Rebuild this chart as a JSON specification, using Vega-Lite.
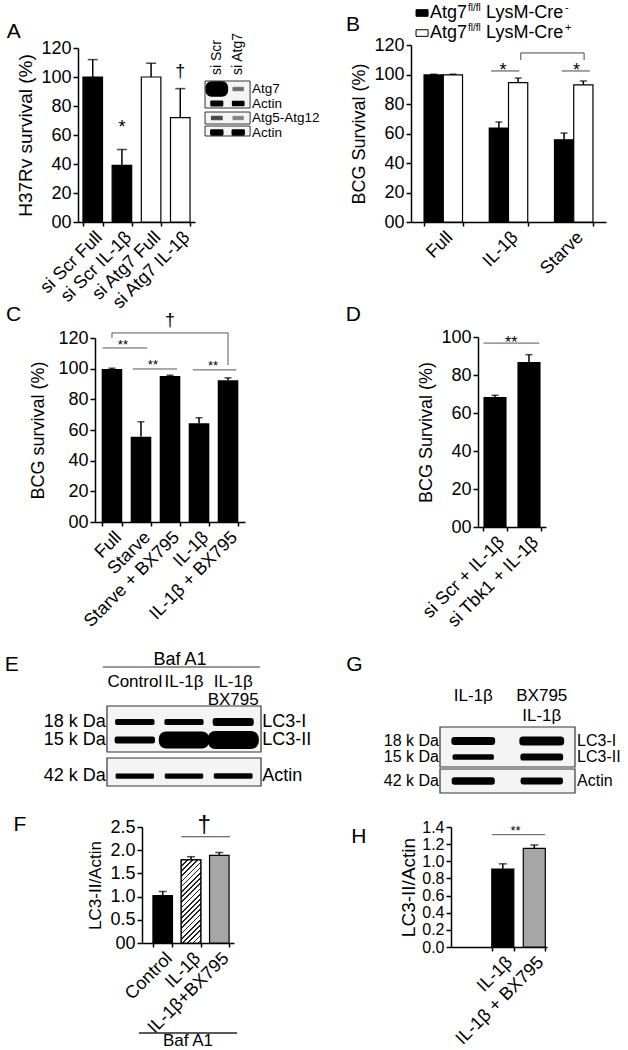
{
"$schema": "https://vega.github.io/schema/vega-lite/v6.json",
"width": 628, "height": 1050,
"autosize": {"type": "none"},
"padding": 0,
"background": "white",
"config": {
  "font": "Liberation Sans",
  "view": {"stroke": null},
  "axis": {"domainColor": "black", "domainWidth": 1.5, "tickColor": "black", "tickWidth": 1.5, "tickSize": 5, "labelColor": "black", "labelFontSize": 18, "titleColor": "black", "titleFontSize": 18, "titleFontWeight": "normal", "grid": false, "labelPadding": 2, "titlePadding": 4, "labelOverlap": false, "labelFlush": false, "labelBound": false},
  "text": {"color": "black"}
},
"datasets": {
  "A": [
    {"cond": "si Scr Full", "grp": "si Scr", "v": 100, "hi": 112},
    {"cond": "si Scr IL-1β", "grp": "si Scr", "v": 39, "hi": 50},
    {"cond": "si Atg7 Full", "grp": "si Atg7", "v": 100, "hi": 109.5},
    {"cond": "si Atg7 IL-1β", "grp": "si Atg7", "v": 72, "hi": 92}
  ],
  "blotA": [
    {"lane": "si Scr", "row": "Atg7", "signal": 0.7},
    {"lane": "si Atg7", "row": "Atg7", "signal": 0.04},
    {"lane": "si Scr", "row": "Actin a", "signal": 0.14},
    {"lane": "si Atg7", "row": "Actin a", "signal": 0.12},
    {"lane": "si Scr", "row": "Atg5-Atg12", "signal": 0.06},
    {"lane": "si Atg7", "row": "Atg5-Atg12", "signal": 0.03},
    {"lane": "si Scr", "row": "Actin b", "signal": 0.16},
    {"lane": "si Atg7", "row": "Actin b", "signal": 0.16}
  ],
  "blotArows": [{"row": "Atg7", "label": "Atg7"}, {"row": "Actin a", "label": "Actin"}, {"row": "Atg5-Atg12", "label": "Atg5-Atg12"}, {"row": "Actin b", "label": "Actin"}],
  "blotAlanes": [{"lane": "si Scr"}, {"lane": "si Atg7"}],
  "B": [
    {"cond": "Full", "geno": "Cre-", "v": 99.7, "hi": 100.2},
    {"cond": "Full", "geno": "Cre+", "v": 99.7, "hi": 100.2},
    {"cond": "IL-1β", "geno": "Cre-", "v": 63.7, "hi": 67.8},
    {"cond": "IL-1β", "geno": "Cre+", "v": 94.5, "hi": 97.6},
    {"cond": "Starve", "geno": "Cre-", "v": 55.7, "hi": 60.3},
    {"cond": "Starve", "geno": "Cre+", "v": 93, "hi": 95.6}
  ],
  "C": [
    {"cond": "Full", "v": 99.8, "hi": 100.3},
    {"cond": "Starve", "v": 55.6, "hi": 65.4},
    {"cond": "Starve + BX795", "v": 95.2, "hi": 95.7},
    {"cond": "IL-1β", "v": 64.4, "hi": 68},
    {"cond": "IL-1β + BX795", "v": 92.4, "hi": 94}
  ],
  "D": [
    {"cond": "si Scr + IL-1β", "v": 68.4, "hi": 69.3},
    {"cond": "si Tbk1 + IL-1β", "v": 86.8, "hi": 90.7}
  ],
  "blotE": [
    {"lane": "Control", "row": "LC3-I", "signal": 0.2},
    {"lane": "IL-1β", "row": "LC3-I", "signal": 0.19},
    {"lane": "IL-1β\nBX795", "row": "LC3-I", "signal": 0.3},
    {"lane": "Control", "row": "LC3-II", "signal": 0.26},
    {"lane": "IL-1β", "row": "LC3-II", "signal": 0.85},
    {"lane": "IL-1β\nBX795", "row": "LC3-II", "signal": 0.9},
    {"lane": "Control", "row": "Actin", "signal": 0.15},
    {"lane": "IL-1β", "row": "Actin", "signal": 0.15},
    {"lane": "IL-1β\nBX795", "row": "Actin", "signal": 0.17}
  ],
  "blotErows": [{"row": "LC3-I", "kda": "18 k Da"}, {"row": "LC3-II", "kda": "15 k Da"}, {"row": "Actin", "kda": "42 k Da"}],
  "blotElanes": [{"lane": "Control"}, {"lane": "IL-1β"}, {"lane": "IL-1β\nBX795"}],
  "F": [
    {"cond": "Control", "v": 1.02, "hi": 1.11},
    {"cond": "IL-1β", "v": 1.79, "hi": 1.86},
    {"cond": "IL-1β+BX795", "v": 1.89, "hi": 1.95}
  ],
  "blotG": [
    {"lane": "IL-1β", "row": "LC3-I", "signal": 0.36},
    {"lane": "BX795\nIL-1β", "row": "LC3-I", "signal": 0.42},
    {"lane": "IL-1β", "row": "LC3-II", "signal": 0.22},
    {"lane": "BX795\nIL-1β", "row": "LC3-II", "signal": 0.3},
    {"lane": "IL-1β", "row": "Actin", "signal": 0.32},
    {"lane": "BX795\nIL-1β", "row": "Actin", "signal": 0.28}
  ],
  "blotGrows": [{"row": "LC3-I", "kda": "18 k Da"}, {"row": "LC3-II", "kda": "15 k Da"}, {"row": "Actin", "kda": "42 k Da"}],
  "blotGlanes": [{"lane": "IL-1β"}, {"lane": "BX795\nIL-1β"}],
  "H": [
    {"cond": "IL-1β", "v": 0.91, "hi": 0.97},
    {"cond": "IL-1β + BX795", "v": 1.15, "hi": 1.19}
  ]
},
"resolve": {"scale": {"x": "independent", "y": "independent", "fill": "independent", "color": "independent", "opacity": "independent", "strokeWidth": "independent"}, "axis": {"x": "independent", "y": "independent"}},
"layer": [
  {
    "data": {"name": "A"},
    "layer": [
      {"mark": {"type": "bar", "stroke": "black", "strokeWidth": 1.2},
       "encoding": {
         "x": {"field": "cond", "type": "nominal", "scale": {"domain": ["si Scr Full", "si Scr IL-1β", "si Atg7 Full", "si Atg7 IL-1β"], "range": [78, 195], "paddingInner": 0.33, "paddingOuter": 0.17}, "axis": {"orient": "bottom", "offset": -828, "title": null, "labelAngle": -45, "tickBand": "extent", "tickSize": 4}},
         "y": {"field": "v", "type": "quantitative", "scale": {"domain": [0, 120], "range": [222, 48], "nice": false}, "axis": {"orient": "left", "offset": -78, "values": [0, 20, 40, 60, 80, 100, 120], "labelExpr": "datum.value === 0 ? '00' : datum.label", "title": "H37Rv survival (%)", "titleFontSize": 19, "titlePadding": 5}},
         "fill": {"field": "grp", "type": "nominal", "scale": {"domain": ["si Scr", "si Atg7"], "range": ["black", "white"]}, "legend": null}
       }},
      {"mark": {"type": "rule", "color": "black", "strokeWidth": 1.5},
       "encoding": {"x": {"field": "cond", "type": "nominal"}, "y": {"field": "v", "type": "quantitative"}, "y2": {"field": "hi"}}},
      {"mark": {"type": "tick", "color": "black", "size": 10, "thickness": 1.5},
       "encoding": {"x": {"field": "cond", "type": "nominal"}, "y": {"field": "hi", "type": "quantitative"}}},
      {"data": {"values": [{}]}, "mark": {"type": "text", "text": "*", "fontSize": 18, "baseline": "middle"},
       "encoding": {"x": {"datum": "si Scr IL-1β", "type": "nominal"}, "y": {"datum": 65, "type": "quantitative"}}},
      {"data": {"values": [{}]}, "mark": {"type": "text", "text": "†", "fontSize": 18, "baseline": "middle"},
       "encoding": {"x": {"datum": "si Atg7 IL-1β", "type": "nominal"}, "y": {"datum": 103.4, "type": "quantitative"}}},
      {"data": {"values": [{}]}, "mark": {"type": "text", "text": "A", "fontSize": 21, "baseline": "middle", "xOffset": -79},
       "encoding": {"x": {"datum": "si Scr Full", "type": "nominal"}, "y": {"datum": 131, "type": "quantitative"}}}
    ]
  },
  {
    "layer": [
      {"data": {"values": [{"box": "1"}]}, "mark": {"type": "rect", "fill": "#f4f4f4", "stroke": "#333", "strokeWidth": 1, "xOffset": -6.4, "x2Offset": 6.5, "yOffset": -8, "y2Offset": 4.5},
       "encoding": {
         "x": {"datum": "si Scr", "type": "nominal", "bandPosition": 0, "scale": {"domain": ["si Scr", "si Atg7"], "range": [205, 250], "paddingInner": 0.5, "paddingOuter": 0.3}, "axis": null},
         "x2": {"datum": "si Atg7", "bandPosition": 1},
         "y": {"datum": "Atg7", "type": "nominal", "bandPosition": 0.5, "scale": {"domain": ["Atg7", "Actin a", "Atg5-Atg12", "Actin b"], "range": [81.75, 139.75], "paddingInner": 0.75, "paddingOuter": 0.375}, "axis": null},
         "y2": {"datum": "Actin a", "bandPosition": 0.5}
       }},
      {"data": {"values": [{"box": "2"}]}, "mark": {"type": "rect", "fill": "#f4f4f4", "stroke": "#333", "strokeWidth": 1, "xOffset": -6.4, "x2Offset": 6.5, "yOffset": -6, "y2Offset": 6},
       "encoding": {"x": {"datum": "si Scr", "type": "nominal", "bandPosition": 0}, "x2": {"datum": "si Atg7", "bandPosition": 1}, "y": {"datum": "Atg5-Atg12", "type": "nominal", "bandPosition": 0.5}, "y2": {"datum": "Atg5-Atg12", "bandPosition": 0.5}}},
      {"data": {"values": [{"box": "3"}]}, "mark": {"type": "rect", "fill": "#f4f4f4", "stroke": "#333", "strokeWidth": 1, "xOffset": -6.4, "x2Offset": 6.5, "yOffset": -6.5, "y2Offset": 3.5},
       "encoding": {"x": {"datum": "si Scr", "type": "nominal", "bandPosition": 0}, "x2": {"datum": "si Atg7", "bandPosition": 1}, "y": {"datum": "Actin b", "type": "nominal", "bandPosition": 0.5}, "y2": {"datum": "Actin b", "bandPosition": 0.5}}},
      {"data": {"name": "blotA"}, "mark": {"type": "rect", "fill": "black", "stroke": "black", "strokeJoin": "round"},
       "encoding": {
         "x": {"field": "lane", "type": "nominal"},
         "y": {"field": "row", "type": "nominal"},
         "strokeWidth": {"field": "signal", "type": "quantitative", "scale": {"domain": [0, 1], "range": [0, 17]}, "legend": null},
         "opacity": {"field": "signal", "type": "quantitative", "scale": {"domain": [0, 0.1], "range": [0.25, 1], "clamp": true}, "legend": null}
       }},
      {"data": {"name": "blotArows"}, "mark": {"type": "text", "fontSize": 13.5, "align": "left", "baseline": "middle", "xOffset": 8.5},
       "encoding": {"x": {"datum": "si Atg7", "type": "nominal", "bandPosition": 1}, "y": {"field": "row", "type": "nominal"}, "text": {"field": "label"}}},
      {"data": {"name": "blotAlanes"}, "mark": {"type": "text", "fontSize": 14, "align": "left", "baseline": "middle", "angle": 270, "yOffset": -14},
       "encoding": {"x": {"field": "lane", "type": "nominal"}, "y": {"datum": "Atg7", "type": "nominal", "bandPosition": 0.5}, "text": {"field": "lane"}}}
    ]
  },
  {
    "data": {"name": "B"},
    "layer": [
      {"mark": {"type": "bar", "stroke": "black", "strokeWidth": 1.2},
       "encoding": {
         "x": {"field": "cond", "type": "nominal", "scale": {"domain": ["Full", "IL-1β", "Starve"], "range": [411, 606], "paddingInner": 0.41, "paddingOuter": 0.2}, "axis": {"orient": "bottom", "offset": -828, "title": null, "labelAngle": -45, "tickBand": "extent", "tickSize": 4}},
         "xOffset": {"field": "geno", "type": "nominal", "scale": {"domain": ["Cre-", "Cre+"]}},
         "y": {"field": "v", "type": "quantitative", "scale": {"domain": [0, 120], "range": [222, 45], "nice": false}, "axis": {"orient": "left", "offset": -411, "values": [0, 20, 40, 60, 80, 100, 120], "labelExpr": "datum.value === 0 ? '00' : datum.label", "title": "BCG Survival (%)", "titlePadding": 5}},
         "fill": {"field": "geno", "type": "nominal", "scale": {"domain": ["Cre-", "Cre+"], "range": ["black", "white"]}, "legend": null}
       }},
      {"mark": {"type": "rule", "color": "black", "strokeWidth": 1.5},
       "encoding": {"x": {"field": "cond", "type": "nominal"}, "xOffset": {"field": "geno", "type": "nominal"}, "y": {"field": "v", "type": "quantitative"}, "y2": {"field": "hi"}}},
      {"mark": {"type": "tick", "color": "black", "size": 7, "thickness": 1.5},
       "encoding": {"x": {"field": "cond", "type": "nominal"}, "xOffset": {"field": "geno", "type": "nominal"}, "y": {"field": "hi", "type": "quantitative"}}},
      {"data": {"values": [{}]}, "mark": {"type": "rule", "color": "#444", "strokeWidth": 1},
       "encoding": {"x": {"datum": "IL-1β", "type": "nominal", "bandPosition": 0.05}, "x2": {"datum": "IL-1β", "bandPosition": 0.78}, "y": {"datum": 102.4, "type": "quantitative"}}},
      {"data": {"values": [{}]}, "mark": {"type": "rule", "color": "#444", "strokeWidth": 1},
       "encoding": {"x": {"datum": "Starve", "type": "nominal", "bandPosition": 0.19}, "x2": {"datum": "Starve", "bandPosition": 0.92}, "y": {"datum": 102.4, "type": "quantitative"}}},
      {"data": {"values": [{}]}, "mark": {"type": "text", "text": "*", "fontSize": 18, "baseline": "middle"},
       "encoding": {"x": {"datum": "IL-1β", "type": "nominal", "bandPosition": 0.36}, "y": {"datum": 102.4, "type": "quantitative"}}},
      {"data": {"values": [{}]}, "mark": {"type": "text", "text": "*", "fontSize": 18, "baseline": "middle"},
       "encoding": {"x": {"datum": "Starve", "type": "nominal", "bandPosition": 0.57}, "y": {"datum": 102.4, "type": "quantitative"}}},
      {"data": {"values": [{}]}, "mark": {"type": "rule", "color": "#444", "strokeWidth": 1},
       "encoding": {"x": {"datum": "IL-1β", "type": "nominal", "bandPosition": 0.82}, "y": {"datum": 109.8, "type": "quantitative"}, "y2": {"datum": 114.6}}},
      {"data": {"values": [{}]}, "mark": {"type": "rule", "color": "#444", "strokeWidth": 1},
       "encoding": {"x": {"datum": "IL-1β", "type": "nominal", "bandPosition": 0.82}, "x2": {"datum": "Starve", "bandPosition": 0.77}, "y": {"datum": 114.6, "type": "quantitative"}}},
      {"data": {"values": [{}]}, "mark": {"type": "rule", "color": "#444", "strokeWidth": 1},
       "encoding": {"x": {"datum": "Starve", "type": "nominal", "bandPosition": 0.77}, "y": {"datum": 109.8, "type": "quantitative"}, "y2": {"datum": 114.6}}},
      {"data": {"values": [{}]}, "mark": {"type": "point", "shape": "M-1,-0.55H1V0.55H-1Z", "size": 144, "filled": true, "fill": "black", "stroke": "black", "strokeWidth": 1, "opacity": 1, "xOffset": -2},
       "encoding": {"x": {"datum": "Full", "type": "nominal", "bandPosition": 0}, "y": {"datum": 141.7, "type": "quantitative"}}},
      {"data": {"values": [{}]}, "mark": {"type": "point", "shape": "M-1,-0.55H1V0.55H-1Z", "size": 144, "filled": true, "fill": "white", "stroke": "black", "strokeWidth": 1, "opacity": 1, "xOffset": -2},
       "encoding": {"x": {"datum": "Full", "type": "nominal", "bandPosition": 0}, "y": {"datum": 128.1, "type": "quantitative"}}},
      {"data": {"values": [{}]}, "mark": {"type": "text", "text": "Atg7", "fontSize": 18, "align": "left", "baseline": "middle", "xOffset": 6},
       "encoding": {"x": {"datum": "Full", "type": "nominal", "bandPosition": 0}, "y": {"datum": 141.7, "type": "quantitative"}}},
      {"data": {"values": [{}]}, "mark": {"type": "text", "text": "Atg7", "fontSize": 18, "align": "left", "baseline": "middle", "xOffset": 6},
       "encoding": {"x": {"datum": "Full", "type": "nominal", "bandPosition": 0}, "y": {"datum": 128.1, "type": "quantitative"}}},
      {"data": {"values": [{}]}, "mark": {"type": "text", "text": "fl/fl", "fontSize": 10, "align": "left", "baseline": "middle", "xOffset": 44},
       "encoding": {"x": {"datum": "Full", "type": "nominal", "bandPosition": 0}, "y": {"datum": 145.1, "type": "quantitative"}}},
      {"data": {"values": [{}]}, "mark": {"type": "text", "text": "fl/fl", "fontSize": 10, "align": "left", "baseline": "middle", "xOffset": 44},
       "encoding": {"x": {"datum": "Full", "type": "nominal", "bandPosition": 0}, "y": {"datum": 131.5, "type": "quantitative"}}},
      {"data": {"values": [{}]}, "mark": {"type": "text", "text": "LysM-Cre", "fontSize": 18, "align": "left", "baseline": "middle", "xOffset": 62},
       "encoding": {"x": {"datum": "Full", "type": "nominal", "bandPosition": 0}, "y": {"datum": 141.7, "type": "quantitative"}}},
      {"data": {"values": [{}]}, "mark": {"type": "text", "text": "LysM-Cre", "fontSize": 18, "align": "left", "baseline": "middle", "xOffset": 62},
       "encoding": {"x": {"datum": "Full", "type": "nominal", "bandPosition": 0}, "y": {"datum": 128.1, "type": "quantitative"}}},
      {"data": {"values": [{}]}, "mark": {"type": "text", "text": "-", "fontSize": 11, "align": "left", "baseline": "middle", "xOffset": 141},
       "encoding": {"x": {"datum": "Full", "type": "nominal", "bandPosition": 0}, "y": {"datum": 145.1, "type": "quantitative"}}},
      {"data": {"values": [{}]}, "mark": {"type": "text", "text": "+", "fontSize": 11, "align": "left", "baseline": "middle", "xOffset": 141},
       "encoding": {"x": {"datum": "Full", "type": "nominal", "bandPosition": 0}, "y": {"datum": 131.5, "type": "quantitative"}}},
      {"data": {"values": [{}]}, "mark": {"type": "text", "text": "B", "fontSize": 21, "baseline": "middle", "xOffset": -71},
       "encoding": {"x": {"datum": "Full", "type": "nominal", "bandPosition": 0}, "y": {"datum": 133.6, "type": "quantitative"}}}
    ]
  },
  {
    "data": {"name": "C"},
    "layer": [
      {"mark": {"type": "bar", "color": "black"},
       "encoding": {
         "x": {"field": "cond", "type": "nominal", "scale": {"domain": ["Full", "Starve", "Starve + BX795", "IL-1β", "IL-1β + BX795"], "range": [95, 245], "paddingInner": 0.29, "paddingOuter": 0.23}, "axis": {"orient": "bottom", "offset": -528, "title": null, "labelAngle": -45, "tickBand": "extent", "tickSize": 4}},
         "y": {"field": "v", "type": "quantitative", "scale": {"domain": [0, 120], "range": [522, 338], "nice": false}, "axis": {"orient": "left", "offset": -95, "values": [0, 20, 40, 60, 80, 100, 120], "labelExpr": "datum.value === 0 ? '00' : datum.label", "title": "BCG survival (%)", "titlePadding": 10}}
       }},
      {"mark": {"type": "rule", "color": "black", "strokeWidth": 1.5},
       "encoding": {"x": {"field": "cond", "type": "nominal"}, "y": {"field": "v", "type": "quantitative"}, "y2": {"field": "hi"}}},
      {"mark": {"type": "tick", "color": "black", "size": 7, "thickness": 1.5},
       "encoding": {"x": {"field": "cond", "type": "nominal"}, "y": {"field": "hi", "type": "quantitative"}}},
      {"data": {"values": [{}]}, "mark": {"type": "rule", "color": "#555", "strokeWidth": 1},
       "encoding": {"x": {"datum": "Full", "type": "nominal", "bandPosition": 0.05}, "x2": {"datum": "Starve", "bandPosition": 0.8}, "y": {"datum": 113.5, "type": "quantitative"}}},
      {"data": {"values": [{}]}, "mark": {"type": "rule", "color": "#555", "strokeWidth": 1},
       "encoding": {"x": {"datum": "Starve", "type": "nominal", "bandPosition": 0.1}, "x2": {"datum": "Starve + BX795", "bandPosition": 0.84}, "y": {"datum": 99.8, "type": "quantitative"}}},
      {"data": {"values": [{}]}, "mark": {"type": "rule", "color": "#555", "strokeWidth": 1},
       "encoding": {"x": {"datum": "IL-1β", "type": "nominal", "bandPosition": 0.2}, "x2": {"datum": "IL-1β + BX795", "bandPosition": 0.89}, "y": {"datum": 99.2, "type": "quantitative"}}},
      {"data": {"values": [{}]}, "mark": {"type": "text", "text": "**", "fontSize": 13, "baseline": "middle"},
       "encoding": {"x": {"datum": "Full", "type": "nominal", "bandPosition": 1.03}, "y": {"datum": 115.3, "type": "quantitative"}}},
      {"data": {"values": [{}]}, "mark": {"type": "text", "text": "**", "fontSize": 13, "baseline": "middle"},
       "encoding": {"x": {"datum": "Starve", "type": "nominal", "bandPosition": 1.08}, "y": {"datum": 102.2, "type": "quantitative"}}},
      {"data": {"values": [{}]}, "mark": {"type": "text", "text": "**", "fontSize": 13, "baseline": "middle"},
       "encoding": {"x": {"datum": "IL-1β", "type": "nominal", "bandPosition": 1.18}, "y": {"datum": 101.6, "type": "quantitative"}}},
      {"data": {"values": [{}]}, "mark": {"type": "rule", "color": "#555", "strokeWidth": 1},
       "encoding": {"x": {"datum": "Full", "type": "nominal", "bandPosition": 0.5}, "y": {"datum": 120, "type": "quantitative"}, "y2": {"datum": 123.3}}},
      {"data": {"values": [{}]}, "mark": {"type": "rule", "color": "#555", "strokeWidth": 1},
       "encoding": {"x": {"datum": "Full", "type": "nominal", "bandPosition": 0.5}, "x2": {"datum": "IL-1β + BX795", "bandPosition": 0.5}, "y": {"datum": 123.3, "type": "quantitative"}}},
      {"data": {"values": [{}]}, "mark": {"type": "rule", "color": "#555", "strokeWidth": 1},
       "encoding": {"x": {"datum": "IL-1β + BX795", "type": "nominal", "bandPosition": 0.5}, "y": {"datum": 102.4, "type": "quantitative"}, "y2": {"datum": 123.3}}},
      {"data": {"values": [{}]}, "mark": {"type": "text", "text": "†", "fontSize": 18, "baseline": "middle"},
       "encoding": {"x": {"datum": "Starve + BX795", "type": "nominal", "bandPosition": 0.5}, "y": {"datum": 131.2, "type": "quantitative"}}},
      {"data": {"values": [{}]}, "mark": {"type": "text", "text": "C", "fontSize": 21, "baseline": "middle", "xOffset": -88},
       "encoding": {"x": {"datum": "Full", "type": "nominal", "bandPosition": 0}, "y": {"datum": 135, "type": "quantitative"}}}
    ]
  },
  {
    "data": {"name": "D"},
    "layer": [
      {"mark": {"type": "bar", "color": "black"},
       "encoding": {
         "x": {"field": "cond", "type": "nominal", "scale": {"domain": ["si Scr + IL-1β", "si Tbk1 + IL-1β"], "range": [478, 546], "paddingInner": 0.32, "paddingOuter": 0.16}, "axis": {"orient": "bottom", "offset": -523, "title": null, "labelAngle": -45, "tickBand": "extent", "tickSize": 4}},
         "y": {"field": "v", "type": "quantitative", "scale": {"domain": [0, 100], "range": [527, 337], "nice": false}, "axis": {"orient": "left", "offset": -478, "values": [0, 20, 40, 60, 80, 100], "labelExpr": "datum.value === 0 ? '00' : datum.label", "title": "BCG Survival (%)", "titlePadding": 5}}
       }},
      {"mark": {"type": "rule", "color": "black", "strokeWidth": 1.5},
       "encoding": {"x": {"field": "cond", "type": "nominal"}, "y": {"field": "v", "type": "quantitative"}, "y2": {"field": "hi"}}},
      {"mark": {"type": "tick", "color": "black", "size": 7, "thickness": 1.5},
       "encoding": {"x": {"field": "cond", "type": "nominal"}, "y": {"field": "hi", "type": "quantitative"}}},
      {"data": {"values": [{}]}, "mark": {"type": "rule", "color": "#555", "strokeWidth": 1},
       "encoding": {"x": {"datum": "si Scr + IL-1β", "type": "nominal", "bandPosition": 0}, "x2": {"datum": "si Tbk1 + IL-1β", "bandPosition": 0.95}, "y": {"datum": 96.8, "type": "quantitative"}}},
      {"data": {"values": [{}]}, "mark": {"type": "text", "text": "**", "fontSize": 16, "baseline": "middle"},
       "encoding": {"x": {"datum": "si Scr + IL-1β", "type": "nominal", "bandPosition": 1.2}, "y": {"datum": 96.9, "type": "quantitative"}}},
      {"data": {"values": [{}]}, "mark": {"type": "text", "text": "D", "fontSize": 21, "baseline": "middle", "xOffset": -130},
       "encoding": {"x": {"datum": "si Scr + IL-1β", "type": "nominal", "bandPosition": 0}, "y": {"datum": 111.6, "type": "quantitative"}}}
    ]
  },
  {
    "layer": [
      {"data": {"values": [{"box": "1"}]}, "mark": {"type": "rect", "fill": "#f4f4f4", "stroke": "#333", "strokeWidth": 1.2, "xOffset": -9.85, "x2Offset": 9.85, "yOffset": -16, "y2Offset": 12},
       "encoding": {
         "x": {"datum": "Control", "type": "nominal", "bandPosition": 0, "scale": {"domain": ["Control", "IL-1β", "IL-1β\nBX795"], "range": [107, 261], "paddingInner": 0.27, "paddingOuter": 0.2}, "axis": null},
         "x2": {"datum": "IL-1β\nBX795", "bandPosition": 1},
         "y": {"datum": "LC3-I", "type": "nominal", "bandPosition": 0.5, "scale": {"domain": ["LC3-I", "LC3-II", "gap", "Actin"], "range": [713, 785], "paddingInner": 0.85, "paddingOuter": 0.425}, "axis": null},
         "y2": {"datum": "LC3-II", "bandPosition": 0.5}
       }},
      {"data": {"values": [{"box": "2"}]}, "mark": {"type": "rect", "fill": "#f4f4f4", "stroke": "#333", "strokeWidth": 1.2, "xOffset": -9.85, "x2Offset": 9.85, "yOffset": -18, "y2Offset": 10},
       "encoding": {"x": {"datum": "Control", "type": "nominal", "bandPosition": 0}, "x2": {"datum": "IL-1β\nBX795", "bandPosition": 1}, "y": {"datum": "Actin", "type": "nominal", "bandPosition": 0.5}, "y2": {"datum": "Actin", "bandPosition": 0.5}}},
      {"data": {"name": "blotE"}, "mark": {"type": "rect", "fill": "black", "stroke": "black", "strokeJoin": "round"},
       "encoding": {
         "x": {"field": "lane", "type": "nominal"},
         "y": {"field": "row", "type": "nominal"},
         "strokeWidth": {"field": "signal", "type": "quantitative", "scale": {"domain": [0, 1], "range": [0, 17]}, "legend": null},
         "opacity": {"field": "signal", "type": "quantitative", "scale": {"domain": [0, 0.1], "range": [0.25, 1], "clamp": true}, "legend": null}
       }},
      {"data": {"name": "blotErows"}, "mark": {"type": "text", "fontSize": 18, "align": "right", "baseline": "middle", "xOffset": -11},
       "encoding": {"x": {"datum": "Control", "type": "nominal", "bandPosition": 0}, "y": {"field": "row", "type": "nominal"}, "text": {"field": "kda"}}},
      {"data": {"name": "blotErows"}, "mark": {"type": "text", "fontSize": 18, "align": "left", "baseline": "middle", "xOffset": 11},
       "encoding": {"x": {"datum": "IL-1β\nBX795", "type": "nominal", "bandPosition": 1}, "y": {"field": "row", "type": "nominal"}, "text": {"field": "row"}}},
      {"data": {"name": "blotElanes"}, "mark": {"type": "text", "fontSize": 17, "align": "center", "baseline": "top", "lineBreak": "\n", "lineHeight": 18, "yOffset": -48},
       "encoding": {"x": {"field": "lane", "type": "nominal"}, "y": {"datum": "LC3-I", "type": "nominal", "bandPosition": 0.5}, "text": {"field": "lane"}}},
      {"data": {"values": [{}]}, "mark": {"type": "text", "text": "Baf A1", "fontSize": 18, "baseline": "middle", "xOffset": -4, "yOffset": -62},
       "encoding": {"x": {"datum": "IL-1β", "type": "nominal", "bandPosition": 0.5}, "y": {"datum": "LC3-I", "type": "nominal", "bandPosition": 0.5}}},
      {"data": {"values": [{}]}, "mark": {"type": "rule", "color": "#333", "strokeWidth": 1.2, "xOffset": -14, "x2Offset": 9, "yOffset": -55},
       "encoding": {"x": {"datum": "Control", "type": "nominal", "bandPosition": 0}, "x2": {"datum": "IL-1β\nBX795", "bandPosition": 1}, "y": {"datum": "LC3-I", "type": "nominal", "bandPosition": 0.5}}},
      {"data": {"values": [{}]}, "mark": {"type": "text", "text": "E", "fontSize": 21, "baseline": "middle", "xOffset": -105, "yOffset": -57},
       "encoding": {"x": {"datum": "Control", "type": "nominal", "bandPosition": 0}, "y": {"datum": "LC3-I", "type": "nominal", "bandPosition": 0.5}}}
    ]
  },
  {
    "data": {"name": "F"},
    "layer": [
      {"mark": {"type": "bar", "stroke": "black", "strokeWidth": 1.2},
       "encoding": {
         "x": {"field": "cond", "type": "nominal", "scale": {"domain": ["Control", "IL-1β", "IL-1β+BX795"], "range": [142, 234], "paddingInner": 0.31, "paddingOuter": 0.28, "align": 0.69}, "axis": {"orient": "bottom", "offset": -107, "title": null, "labelAngle": -45, "tickBand": "extent", "tickSize": 4}},
         "y": {"field": "v", "type": "quantitative", "scale": {"domain": [0, 2.5], "range": [943, 827], "nice": false}, "axis": {"orient": "left", "offset": -142, "values": [0, 0.5, 1, 1.5, 2, 2.5], "format": ".1f", "labelExpr": "datum.value === 0 ? '00' : datum.label", "title": "LC3-II/Actin", "titleFontSize": 17, "titlePadding": 5}},
         "fill": {"field": "cond", "type": "nominal", "scale": {"domain": ["Control", "IL-1β", "IL-1β+BX795"], "range": ["black", "white", "#a6a6a6"]}, "legend": null}
       }},
      {"transform": [{"filter": "datum.cond === 'IL-1β'"}],
       "mark": {"type": "bar", "stroke": "black", "strokeWidth": 1.2,
         "fill": {"gradient": "linear", "x1": 0, "y1": 0, "x2": 0.28, "y2": 1.19, "stops": [
           {"offset": 0, "color": "#222"}, {"offset": 0.016, "color": "#222"}, {"offset": 0.016, "color": "#fff"}, {"offset": 0.05, "color": "#fff"},
           {"offset": 0.05, "color": "#222"}, {"offset": 0.066, "color": "#222"}, {"offset": 0.066, "color": "#fff"}, {"offset": 0.1, "color": "#fff"},
           {"offset": 0.1, "color": "#222"}, {"offset": 0.116, "color": "#222"}, {"offset": 0.116, "color": "#fff"}, {"offset": 0.15, "color": "#fff"},
           {"offset": 0.15, "color": "#222"}, {"offset": 0.166, "color": "#222"}, {"offset": 0.166, "color": "#fff"}, {"offset": 0.2, "color": "#fff"},
           {"offset": 0.2, "color": "#222"}, {"offset": 0.216, "color": "#222"}, {"offset": 0.216, "color": "#fff"}, {"offset": 0.25, "color": "#fff"},
           {"offset": 0.25, "color": "#222"}, {"offset": 0.266, "color": "#222"}, {"offset": 0.266, "color": "#fff"}, {"offset": 0.3, "color": "#fff"},
           {"offset": 0.3, "color": "#222"}, {"offset": 0.316, "color": "#222"}, {"offset": 0.316, "color": "#fff"}, {"offset": 0.35, "color": "#fff"},
           {"offset": 0.35, "color": "#222"}, {"offset": 0.366, "color": "#222"}, {"offset": 0.366, "color": "#fff"}, {"offset": 0.4, "color": "#fff"},
           {"offset": 0.4, "color": "#222"}, {"offset": 0.416, "color": "#222"}, {"offset": 0.416, "color": "#fff"}, {"offset": 0.45, "color": "#fff"},
           {"offset": 0.45, "color": "#222"}, {"offset": 0.466, "color": "#222"}, {"offset": 0.466, "color": "#fff"}, {"offset": 0.5, "color": "#fff"},
           {"offset": 0.5, "color": "#222"}, {"offset": 0.516, "color": "#222"}, {"offset": 0.516, "color": "#fff"}, {"offset": 0.55, "color": "#fff"},
           {"offset": 0.55, "color": "#222"}, {"offset": 0.566, "color": "#222"}, {"offset": 0.566, "color": "#fff"}, {"offset": 0.6, "color": "#fff"},
           {"offset": 0.6, "color": "#222"}, {"offset": 0.616, "color": "#222"}, {"offset": 0.616, "color": "#fff"}, {"offset": 0.65, "color": "#fff"},
           {"offset": 0.65, "color": "#222"}, {"offset": 0.666, "color": "#222"}, {"offset": 0.666, "color": "#fff"}, {"offset": 0.7, "color": "#fff"},
           {"offset": 0.7, "color": "#222"}, {"offset": 0.716, "color": "#222"}, {"offset": 0.716, "color": "#fff"}, {"offset": 0.75, "color": "#fff"},
           {"offset": 0.75, "color": "#222"}, {"offset": 0.766, "color": "#222"}, {"offset": 0.766, "color": "#fff"}, {"offset": 0.8, "color": "#fff"},
           {"offset": 0.8, "color": "#222"}, {"offset": 0.816, "color": "#222"}, {"offset": 0.816, "color": "#fff"}, {"offset": 0.85, "color": "#fff"},
           {"offset": 0.85, "color": "#222"}, {"offset": 0.866, "color": "#222"}, {"offset": 0.866, "color": "#fff"}, {"offset": 0.9, "color": "#fff"},
           {"offset": 0.9, "color": "#222"}, {"offset": 0.916, "color": "#222"}, {"offset": 0.916, "color": "#fff"}, {"offset": 0.95, "color": "#fff"},
           {"offset": 0.95, "color": "#222"}, {"offset": 0.966, "color": "#222"}, {"offset": 0.966, "color": "#fff"}, {"offset": 1, "color": "#fff"}
         ]}},
       "encoding": {"x": {"field": "cond", "type": "nominal"}, "y": {"field": "v", "type": "quantitative"}}},
      {"mark": {"type": "rule", "color": "black", "strokeWidth": 1.5},
       "encoding": {"x": {"field": "cond", "type": "nominal"}, "y": {"field": "v", "type": "quantitative"}, "y2": {"field": "hi"}}},
      {"mark": {"type": "tick", "color": "black", "size": 8, "thickness": 1.5},
       "encoding": {"x": {"field": "cond", "type": "nominal"}, "y": {"field": "hi", "type": "quantitative"}}},
      {"data": {"values": [{}]}, "mark": {"type": "rule", "color": "#444", "strokeWidth": 1},
       "encoding": {"x": {"datum": "IL-1β", "type": "nominal", "bandPosition": 0}, "x2": {"datum": "IL-1β+BX795", "bandPosition": 1.05}, "y": {"datum": 2.29, "type": "quantitative"}}},
      {"data": {"values": [{}]}, "mark": {"type": "text", "text": "†", "fontSize": 24, "baseline": "middle"},
       "encoding": {"x": {"datum": "IL-1β", "type": "nominal", "bandPosition": 1.17}, "y": {"datum": 2.54, "type": "quantitative"}}},
      {"data": {"values": [{}]}, "mark": {"type": "rule", "color": "#222", "strokeWidth": 1.3, "xOffset": -14, "x2Offset": 8},
       "encoding": {"x": {"datum": "Control", "type": "nominal", "bandPosition": 0}, "x2": {"datum": "IL-1β+BX795", "bandPosition": 1}, "y": {"datum": -1.94, "type": "quantitative"}}},
      {"data": {"values": [{}]}, "mark": {"type": "text", "text": "Baf A1", "fontSize": 17, "baseline": "middle", "xOffset": -3},
       "encoding": {"x": {"datum": "IL-1β", "type": "nominal", "bandPosition": 0.5}, "y": {"datum": -2.12, "type": "quantitative"}}},
      {"data": {"values": [{}]}, "mark": {"type": "text", "text": "F", "fontSize": 21, "baseline": "middle", "xOffset": -133},
       "encoding": {"x": {"datum": "Control", "type": "nominal", "bandPosition": 0}, "y": {"datum": 2.54, "type": "quantitative"}}}
    ]
  },
  {
    "layer": [
      {"data": {"values": [{"box": "1"}]}, "mark": {"type": "rect", "fill": "#f4f4f4", "stroke": "#333", "strokeWidth": 1.2, "xOffset": -14.4, "x2Offset": 14.4, "yOffset": -14, "y2Offset": 10},
       "encoding": {
         "x": {"datum": "IL-1β", "type": "nominal", "bandPosition": 0, "scale": {"domain": ["IL-1β", "BX795\nIL-1β"], "range": [440, 575], "paddingInner": 0.45, "paddingOuter": 0.21}, "axis": null},
         "x2": {"datum": "BX795\nIL-1β", "bandPosition": 1},
         "y": {"datum": "LC3-I", "type": "nominal", "bandPosition": 0.5, "scale": {"domain": ["LC3-I", "g1", "LC3-II", "g2", "g3", "Actin"], "range": [737, 785], "paddingInner": 0.75, "paddingOuter": 0.375}, "axis": null},
         "y2": {"datum": "LC3-II", "bandPosition": 0.5}
       }},
      {"data": {"values": [{"box": "2"}]}, "mark": {"type": "rect", "fill": "#f4f4f4", "stroke": "#333", "strokeWidth": 1.2, "xOffset": -14.4, "x2Offset": 14.4, "yOffset": -12, "y2Offset": 12},
       "encoding": {"x": {"datum": "IL-1β", "type": "nominal", "bandPosition": 0}, "x2": {"datum": "BX795\nIL-1β", "bandPosition": 1}, "y": {"datum": "Actin", "type": "nominal", "bandPosition": 0.5}, "y2": {"datum": "Actin", "bandPosition": 0.5}}},
      {"data": {"name": "blotG"}, "mark": {"type": "rect", "fill": "black", "stroke": "black", "strokeJoin": "round"},
       "encoding": {
         "x": {"field": "lane", "type": "nominal"},
         "y": {"field": "row", "type": "nominal"},
         "strokeWidth": {"field": "signal", "type": "quantitative", "scale": {"domain": [0, 1], "range": [0, 17]}, "legend": null},
         "opacity": {"field": "signal", "type": "quantitative", "scale": {"domain": [0, 0.1], "range": [0.25, 1], "clamp": true}, "legend": null}
       }},
      {"data": {"name": "blotGrows"}, "mark": {"type": "text", "fontSize": 16, "align": "right", "baseline": "middle", "xOffset": -15.5},
       "encoding": {"x": {"datum": "IL-1β", "type": "nominal", "bandPosition": 0}, "y": {"field": "row", "type": "nominal"}, "text": {"field": "kda"}}},
      {"data": {"name": "blotGrows"}, "mark": {"type": "text", "fontSize": 16, "align": "left", "baseline": "middle", "xOffset": 16.5},
       "encoding": {"x": {"datum": "BX795\nIL-1β", "type": "nominal", "bandPosition": 1}, "y": {"field": "row", "type": "nominal"}, "text": {"field": "row"}}},
      {"data": {"name": "blotGlanes"}, "mark": {"type": "text", "fontSize": 17, "align": "center", "baseline": "top", "lineBreak": "\n", "lineHeight": 20, "yOffset": -53},
       "encoding": {"x": {"field": "lane", "type": "nominal"}, "y": {"datum": "LC3-I", "type": "nominal", "bandPosition": 0.5}, "text": {"field": "lane"}}},
      {"data": {"values": [{}]}, "mark": {"type": "text", "text": "G", "fontSize": 21, "baseline": "middle", "xOffset": -100, "yOffset": -76},
       "encoding": {"x": {"datum": "IL-1β", "type": "nominal", "bandPosition": 0}, "y": {"datum": "LC3-I", "type": "nominal", "bandPosition": 0.5}}}
    ]
  },
  {
    "data": {"name": "H"},
    "layer": [
      {"mark": {"type": "bar", "stroke": "black", "strokeWidth": 1.2},
       "encoding": {
         "x": {"field": "cond", "type": "nominal", "scale": {"domain": ["IL-1β", "IL-1β + BX795"], "range": [451, 547], "paddingInner": 0.3, "paddingOuter": 0.675, "align": 0.96}, "axis": {"orient": "bottom", "offset": -103, "title": null, "labelAngle": -45, "tickBand": "extent", "tickSize": 4}},
         "y": {"field": "v", "type": "quantitative", "scale": {"domain": [0, 1.4], "range": [947, 827], "nice": false}, "axis": {"orient": "left", "offset": -451, "values": [0, 0.2, 0.4, 0.6, 0.8, 1, 1.2, 1.4], "format": ".1f", "labelFontSize": 16, "title": "LC3-II/Actin", "titleFontSize": 19, "titlePadding": 3}},
         "fill": {"field": "cond", "type": "nominal", "scale": {"domain": ["IL-1β", "IL-1β + BX795"], "range": ["black", "#a6a6a6"]}, "legend": null}
       }},
      {"mark": {"type": "rule", "color": "black", "strokeWidth": 1.5},
       "encoding": {"x": {"field": "cond", "type": "nominal"}, "y": {"field": "v", "type": "quantitative"}, "y2": {"field": "hi"}}},
      {"mark": {"type": "tick", "color": "black", "size": 8, "thickness": 1.5},
       "encoding": {"x": {"field": "cond", "type": "nominal"}, "y": {"field": "hi", "type": "quantitative"}}},
      {"data": {"values": [{}]}, "mark": {"type": "rule", "color": "#555", "strokeWidth": 1},
       "encoding": {"x": {"datum": "IL-1β", "type": "nominal", "bandPosition": 0}, "x2": {"datum": "IL-1β + BX795", "bandPosition": 1}, "y": {"datum": 1.31, "type": "quantitative"}}},
      {"data": {"values": [{}]}, "mark": {"type": "text", "text": "**", "fontSize": 13, "baseline": "middle"},
       "encoding": {"x": {"datum": "IL-1β", "type": "nominal", "bandPosition": 1.08}, "y": {"datum": 1.35, "type": "quantitative"}}},
      {"data": {"values": [{}]}, "mark": {"type": "text", "text": "H", "fontSize": 21, "baseline": "middle", "xOffset": -133},
       "encoding": {"x": {"datum": "IL-1β", "type": "nominal", "bandPosition": 0}, "y": {"datum": 1.283, "type": "quantitative"}}}
    ]
  }
]
}
